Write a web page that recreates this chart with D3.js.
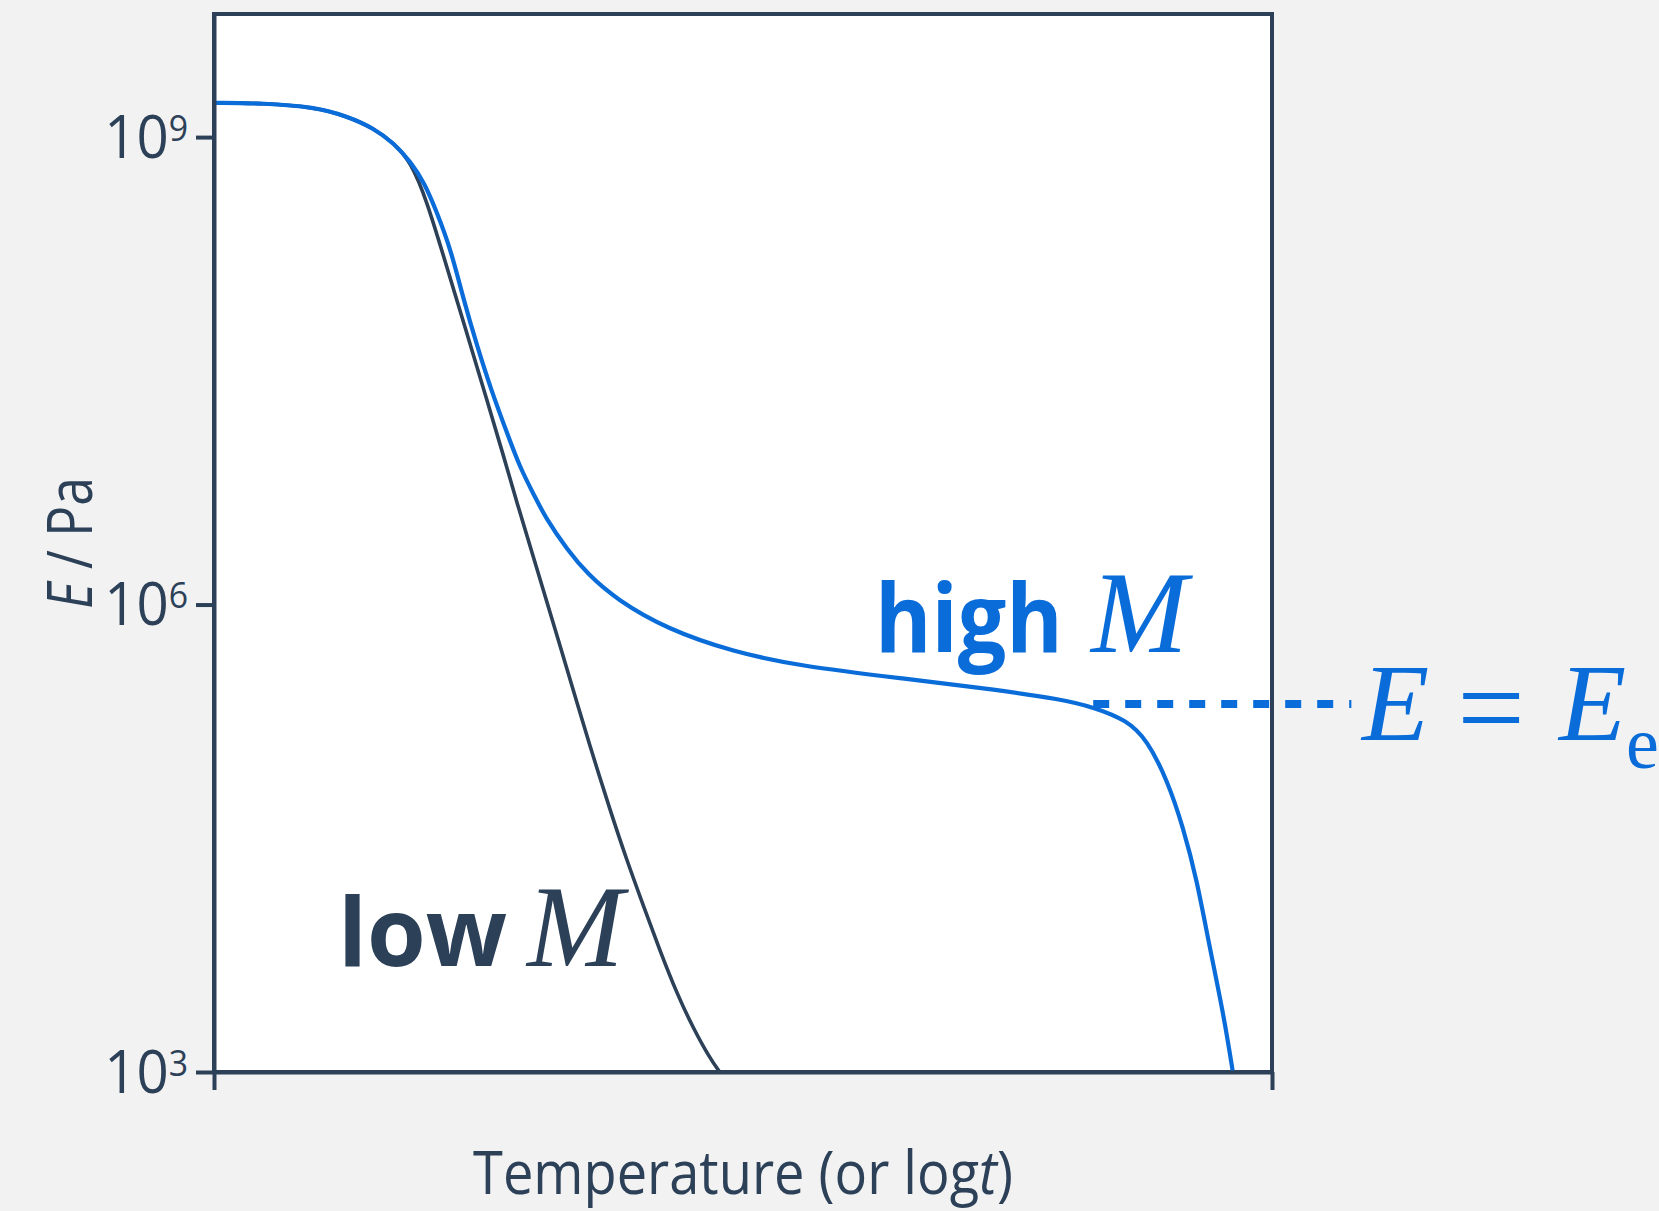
<!DOCTYPE html>
<html>
<head>
<meta charset="utf-8">
<script src="https://cdn.jsdelivr.net/npm/d3@7"></script>
<style>
	body { margin: 0; background: #f2f2f2; }
	svg { display: block; font-family: "Open Sans", sans-serif; }
</style>
</head>
<body>
<div id="graphArea"></div>
<script>
// temperature is in arbitrary units: 0 = left axis, 100 = right axis
// high molar mass curve (blue)
var highT = [0, 4.7, 9.5, 12.6, 15.1, 17.0, 18.6, 19.9, 21.1, 22.4, 23.6, 24.9, 26.2, 27.7, 28.9, 30.3, 31.3, 33.4, 35.3, 38.1,
	42.8, 49.1, 55.4, 64.8, 74.3, 80.0, 83.1, 86.3, 88.2, 90.1, 91.6, 92.9, 94.1, 95.4, 96.3]
var highE = [1.66e9, 1.65e9, 1.56e9, 1.36e9, 1.14e9, 9.15e8, 6.92e8, 5.07e8, 3.25e8, 1.88e8, 9.0e7, 4.49e7, 2.38e7, 1.26e7, 7.62e6, 4.97e6, 3.64e6, 2.24e6, 1.57e6, 1.07e6,
	6.97e5, 4.96e5, 4.03e5, 3.37e5, 2.82e5, 2.47e5, 2.20e5, 1.81e5, 1.35e5, 7.48e4, 3.73e4, 1.71e4, 6.34e3, 2.39e3, 1.0e3]

// low molar mass curve (dark)
var lowT = [0, 4.7, 9.5, 12.6, 15.1, 17.0, 18.6, 20.1, 22.0, 23.9, 25.8, 27.4, 28.5, 30.8, 32.7, 34.3, 35.8, 37.4, 39.0, 40.6,
	42.2, 43.8, 45.3, 46.9, 47.8]
var lowE = [1.66e9, 1.65e9, 1.56e9, 1.36e9, 1.14e9, 9.15e8, 6.92e8, 3.94e8, 1.47e8, 5.52e7, 2.05e7, 8.85e6, 4.82e6, 1.47e6, 5.46e5, 2.35e5, 1.08e5, 4.89e4, 2.30e4, 1.16e4,
	5.88e3, 3.14e3, 1.91e3, 1.215e3, 1.0e3]

// rubbery plateau marker E = Ee
var plateauE = 2.3e5
var plateauT = [83.1, 107.5]

var yTicks = [1e3, 1e6, 1e9]
var yTickExp = ["3", "6", "9"]
var xTicks = [0, 100]

var dark = "#2c4058"
var blue = "#0a6cd9"

var width = 1659
var height = 1211

var svg = d3.select("#graphArea")
	.append("svg")
	.attr("width", width)
	.attr("height", height)

var x = d3.scaleLinear()
	.domain([0, 100])
	.range([214, 1272])

var y = d3.scaleLog()
	.domain([1e3, Math.pow(10, 9.79)])
	.range([1072, 14])

// squeeze a text horizontally so it is as wide as the original lettering
function squeeze(sel, cx, cy, target) {
	var len = sel.node().getComputedTextLength()
	sel.attr("transform", "translate(" + cx + "," + cy + ") scale(" + (target / len) + ",1)")
}

// white plot area with frame
svg.append("rect")
	.attr("x", x(0))
	.attr("y", y.range()[1])
	.attr("width", x(100) - x(0))
	.attr("height", y.range()[0] - y.range()[1])
	.attr("fill", "#fff")
	.attr("stroke", dark)
	.attr("stroke-width", 4)

svg.append("clipPath")
	.attr("id", "plotClip")
	.append("rect")
	.attr("x", x(0))
	.attr("y", y.range()[1])
	.attr("width", x(100) - x(0))
	.attr("height", y.range()[0] - y.range()[1])

var line = d3.line()
	.x(function(d) { return x(d[0]) })
	.y(function(d) { return y(d[1]) })
	.curve(d3.curveBasis)

var lowData = lowT.map(function(t, i) { return [t, lowE[i]] })
var highData = highT.map(function(t, i) { return [t, highE[i]] })

svg.append("path")
	.datum(lowData)
	.attr("clip-path", "url(#plotClip)")
	.attr("d", line)
	.attr("fill", "none")
	.attr("stroke", dark)
	.attr("stroke-width", 3.6)

svg.append("path")
	.datum(highData)
	.attr("clip-path", "url(#plotClip)")
	.attr("d", line)
	.attr("fill", "none")
	.attr("stroke", blue)
	.attr("stroke-width", 4.2)

// dashed plateau line
svg.append("line")
	.attr("x1", x(plateauT[0]))
	.attr("x2", x(plateauT[1]))
	.attr("y1", y(plateauE))
	.attr("y2", y(plateauE))
	.attr("stroke", blue)
	.attr("stroke-width", 8)
	.attr("stroke-dasharray", "16,16")

// axes
var yAxis = svg.append("g")
	.attr("transform", "translate(" + x(0) + ",0)")
	.call(d3.axisLeft(y)
		.tickValues(yTicks)
		.tickSize(18)
		.tickSizeOuter(0)
		.tickFormat(function() { return "10" }))
yAxis.attr("color", dark).attr("font-size", 60).attr("font-family", null)
yAxis.selectAll("line, path").attr("stroke-width", 4)
yAxis.selectAll(".tick text")
	.attr("x", 0)
	.attr("dy", 20)
	.attr("transform", "translate(-26,0) scale(0.94,1)")
	.append("tspan")
	.attr("font-size", 36)
	.attr("dy", -17)
	.text(function(d, i) { return yTickExp[i] })

var xAxis = svg.append("g")
	.attr("transform", "translate(0," + y.range()[0] + ")")
	.call(d3.axisBottom(x)
		.tickValues(xTicks)
		.tickSize(18)
		.tickSizeOuter(0)
		.tickFormat(""))
xAxis.attr("color", dark)
xAxis.selectAll("line, path").attr("stroke-width", 4)

// axis titles
var xTitle = svg.append("text")
	.attr("text-anchor", "middle")
	.attr("font-size", 60)
	.attr("fill", dark)
xTitle.append("tspan").text("Temperature (or log")
xTitle.append("tspan").attr("font-style", "italic").text("t")
xTitle.append("tspan").text(")")
squeeze(xTitle, (x(0) + x(100)) / 2, 1194, 540)

var yTitle = svg.append("text")
	.attr("text-anchor", "middle")
	.attr("font-size", 62)
	.attr("fill", dark)
yTitle.append("tspan").attr("font-style", "italic").text("E")
yTitle.append("tspan").text(" / Pa")
yTitle.attr("transform", "translate(92,543) rotate(-90) scale(" + (132 / yTitle.node().getComputedTextLength()) + ",1)")

// curve labels
svg.append("text")
	.attr("x", 338)
	.attr("y", 966)
	.attr("font-size", 95)
	.attr("font-weight", 700)
	.attr("fill", dark)
	.text("low")
svg.append("text")
	.attr("x", 527)
	.attr("y", 966)
	.attr("font-family", "Liberation Serif, serif")
	.attr("font-style", "italic")
	.attr("font-size", 116)
	.attr("fill", dark)
	.text("M")

svg.append("text")
	.attr("transform", "translate(875,652) scale(0.905,1)")
	.attr("font-size", 95)
	.attr("font-weight", 700)
	.attr("fill", blue)
	.text("high")
svg.append("text")
	.attr("x", 1091)
	.attr("y", 652)
	.attr("font-family", "Liberation Serif, serif")
	.attr("font-style", "italic")
	.attr("font-size", 116)
	.attr("fill", blue)
	.text("M")

// E = Ee as one line of text
var eq = svg.append("text")
	.attr("x", 1362)
	.attr("y", 740)
	.attr("font-family", "Liberation Serif, serif")
	.attr("font-size", 110)
	.attr("fill", blue)
eq.append("tspan").attr("font-style", "italic").text("E")
eq.append("tspan").attr("font-size", 120).attr("dx", 28).attr("dy", 8).text("=")
eq.append("tspan").attr("font-style", "italic").attr("dx", 34).attr("dy", -8).text("E")
eq.append("tspan").attr("font-size", 74).attr("dy", 28).text("e")
</script>
</body>
</html>
